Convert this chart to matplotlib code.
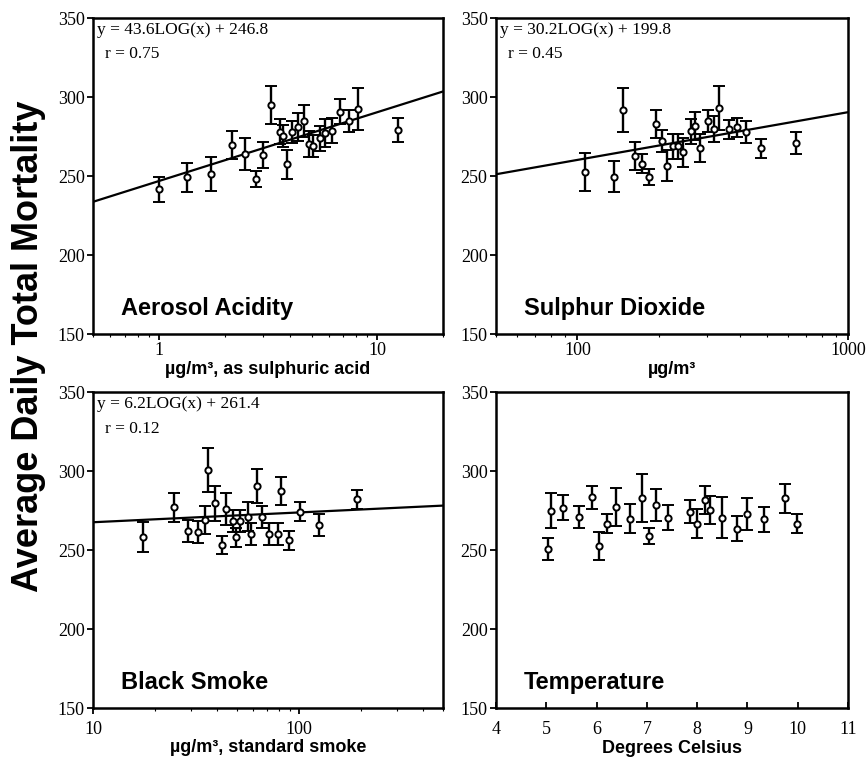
import matplotlib.pyplot as plt
import matplotlib.ticker as mticker
import numpy as np

# Aerosol acidity (ug/m3 as sulphuric acid)
acid_x = [1.0, 1.34, 1.74, 2.16, 2.47, 2.78, 3.01, 3.26, 3.59, 3.69, 3.85, 4.08,
          4.34, 4.63, 4.86, 5.08, 5.45, 5.74, 6.20, 6.72, 7.41, 8.14, 12.5]
acid_y = [241.6, 249.2, 251.3, 269.6, 263.9, 247.9, 263.3, 294.9, 278.1, 275.3, 257.4, 277.7,
          281.2, 285.0, 270.3, 269.0, 273.9, 277.4, 278.7, 290.7, 285.0, 292.4, 279.1]
acid_e = [8, 9, 11, 9, 10, 5, 8, 12, 8, 7, 9, 7,
          9, 10, 8, 7, 8, 9, 8, 8, 7, 13, 7.5]

# Sulphur dioxide (ug/m3)
so2_x = [107, 136, 148, 163, 173, 184, 196, 205, 215, 226, 236, 246,
         262, 272, 284, 303, 320, 334, 364, 388, 420, 475, 644]
so2_y = [252.7, 249.6, 291.6, 262.8, 257.7, 249.6, 283.1, 272.3, 256.6, 268.7, 268.7, 264.9,
         278.2, 281.8, 267.6, 284.6, 279.7, 293.1, 279.7, 281.0, 277.6, 267.6, 270.8]
so2_e = [12, 10, 14, 9, 6, 5, 9, 7, 10, 8, 8, 9,
         8, 9, 9, 7, 8, 14, 6, 6, 7, 6, 7]

# Black smoke (ug/m3, standard smoke)
bs_x = [17.5, 24.7, 29.0, 32.2, 35.0, 36.3, 39.1, 42.4, 44.0, 47.7, 49.5, 51.6,
        56.4, 58.5, 62.5, 66.1, 71.2, 78.7, 81.9, 89.5, 101, 125, 191]
bs_y = [258.4, 277.0, 262.2, 261.2, 269.0, 300.6, 279.6, 253.2, 275.8, 268.5, 258.0, 268.5,
        271.1, 259.9, 290.5, 271.1, 259.9, 259.9, 287.5, 256.3, 274.3, 265.8, 282.1]
bs_e = [9.5, 9, 7, 7, 9, 14, 11, 6, 10, 7, 6, 7,
        9, 7, 11, 7, 7, 7, 9, 6, 6, 7, 6]

# Temperature (degrees Celsius)
temp_x = [5.03, 5.10, 5.34, 5.66, 5.90, 6.04, 6.21, 6.39, 6.67, 6.90, 7.04, 7.19,
          7.43, 7.85, 8.00, 8.15, 8.26, 8.49, 8.79, 8.99, 9.33, 9.74, 9.99]
temp_y = [250.6, 274.8, 276.9, 271.0, 283.3, 252.7, 266.8, 277.4, 269.9, 282.9, 258.8, 278.4,
          270.5, 274.4, 266.8, 281.6, 275.3, 270.5, 263.5, 272.7, 269.4, 282.7, 266.8]
temp_e = [7, 11, 8, 7, 7, 9, 6, 12, 9, 15, 5, 10,
          8, 7, 9, 9, 9, 13, 8, 10, 8, 9, 6]

serif = 'Liberation Serif'
sans = 'Liberation Sans'

fig = plt.figure(figsize=(8.66, 7.61), dpi=100)
ax1 = fig.add_axes([0.1074, 0.5611, 0.4042, 0.4152])
ax2 = fig.add_axes([0.5727, 0.5611, 0.4065, 0.4152])
ax3 = fig.add_axes([0.1074, 0.0696, 0.4042, 0.4152])
ax4 = fig.add_axes([0.5727, 0.0696, 0.4065, 0.4152])


def panel(ax, x, y, e, name, xlabel):
    ax.errorbar(x, y, yerr=e, fmt='o', mfc='white', mec='black', ms=4.5, mew=1.4,
                ecolor='black', elinewidth=1.7, capsize=4.5, capthick=2)
    ax.set_ylim(150, 350)
    ax.set_yticks([150, 200, 250, 300, 350])
    ax.text(0.08, 0.08, name, transform=ax.transAxes, fontsize=17,
            fontweight='bold', family=sans, va='center')
    ax.set_xlabel(xlabel, fontsize=13, fontweight='bold', family=sans, labelpad=1)
    for s in ax.spines.values():
        s.set_linewidth(1.8)
    ax.tick_params(direction='out', length=4, width=1.3, labelsize=13, pad=2)
    ax.tick_params(which='minor', direction='out', length=2.5, width=0.8)


def fitline(ax, a, b, lo, hi, eq, r):
    xs = np.logspace(np.log10(lo), np.log10(hi), 200)
    ax.plot(xs, a * np.log10(xs) + b, color='black', lw=1.6)
    ax.text(0.012, 0.988, eq, transform=ax.transAxes, fontsize=12.5,
            family=serif, va='top')
    ax.text(0.035, 0.91, 'r = ' + r, transform=ax.transAxes, fontsize=12.5,
            family=serif, va='top')


ax1.set_xscale('log')
ax1.set_xlim(0.5, 20)
fitline(ax1, 43.6, 246.8, 0.5, 20, 'y = 43.6LOG(x) + 246.8', '0.75')
panel(ax1, acid_x, acid_y, acid_e, 'Aerosol Acidity', 'µg/m³, as sulphuric acid')
ax1.xaxis.set_major_locator(mticker.FixedLocator([1, 10]))
ax1.xaxis.set_major_formatter(mticker.FixedFormatter(['1', '10']))
ax1.xaxis.set_minor_formatter(mticker.NullFormatter())

ax2.set_xscale('log')
ax2.set_xlim(50, 1000)
fitline(ax2, 30.2, 199.8, 50, 1000, 'y = 30.2LOG(x) + 199.8', '0.45')
panel(ax2, so2_x, so2_y, so2_e, 'Sulphur Dioxide', 'µg/m³')
ax2.xaxis.set_major_locator(mticker.FixedLocator([100, 1000]))
ax2.xaxis.set_major_formatter(mticker.FixedFormatter(['100', '1000']))
ax2.xaxis.set_minor_formatter(mticker.NullFormatter())

ax3.set_xscale('log')
ax3.set_xlim(10, 500)
fitline(ax3, 6.2, 261.4, 10, 500, 'y = 6.2LOG(x) + 261.4', '0.12')
panel(ax3, bs_x, bs_y, bs_e, 'Black Smoke', 'µg/m³, standard smoke')
ax3.xaxis.set_major_locator(mticker.FixedLocator([10, 100]))
ax3.xaxis.set_major_formatter(mticker.FixedFormatter(['10', '100']))
ax3.xaxis.set_minor_formatter(mticker.NullFormatter())
ax3.tick_params(axis='x', which='major', pad=5)
ax3.xaxis.labelpad = 1

ax4.set_xlim(4, 11)
panel(ax4, temp_x, temp_y, temp_e, 'Temperature', 'Degrees Celsius')
ax4.set_xticks(range(4, 12))
ax4.tick_params(axis='x', direction='in', pad=9)
ax4.xaxis.labelpad = 2

for ax in (ax1, ax2, ax3, ax4):
    for lab in ax.get_xticklabels() + ax.get_yticklabels():
        lab.set_family(serif)

fig.text(0.033, 0.545, 'Average Daily Total Mortality', rotation=90, fontsize=26,
         fontweight='bold', family=sans, va='center', ha='center')

fig.savefig('out.png', dpi=100)
